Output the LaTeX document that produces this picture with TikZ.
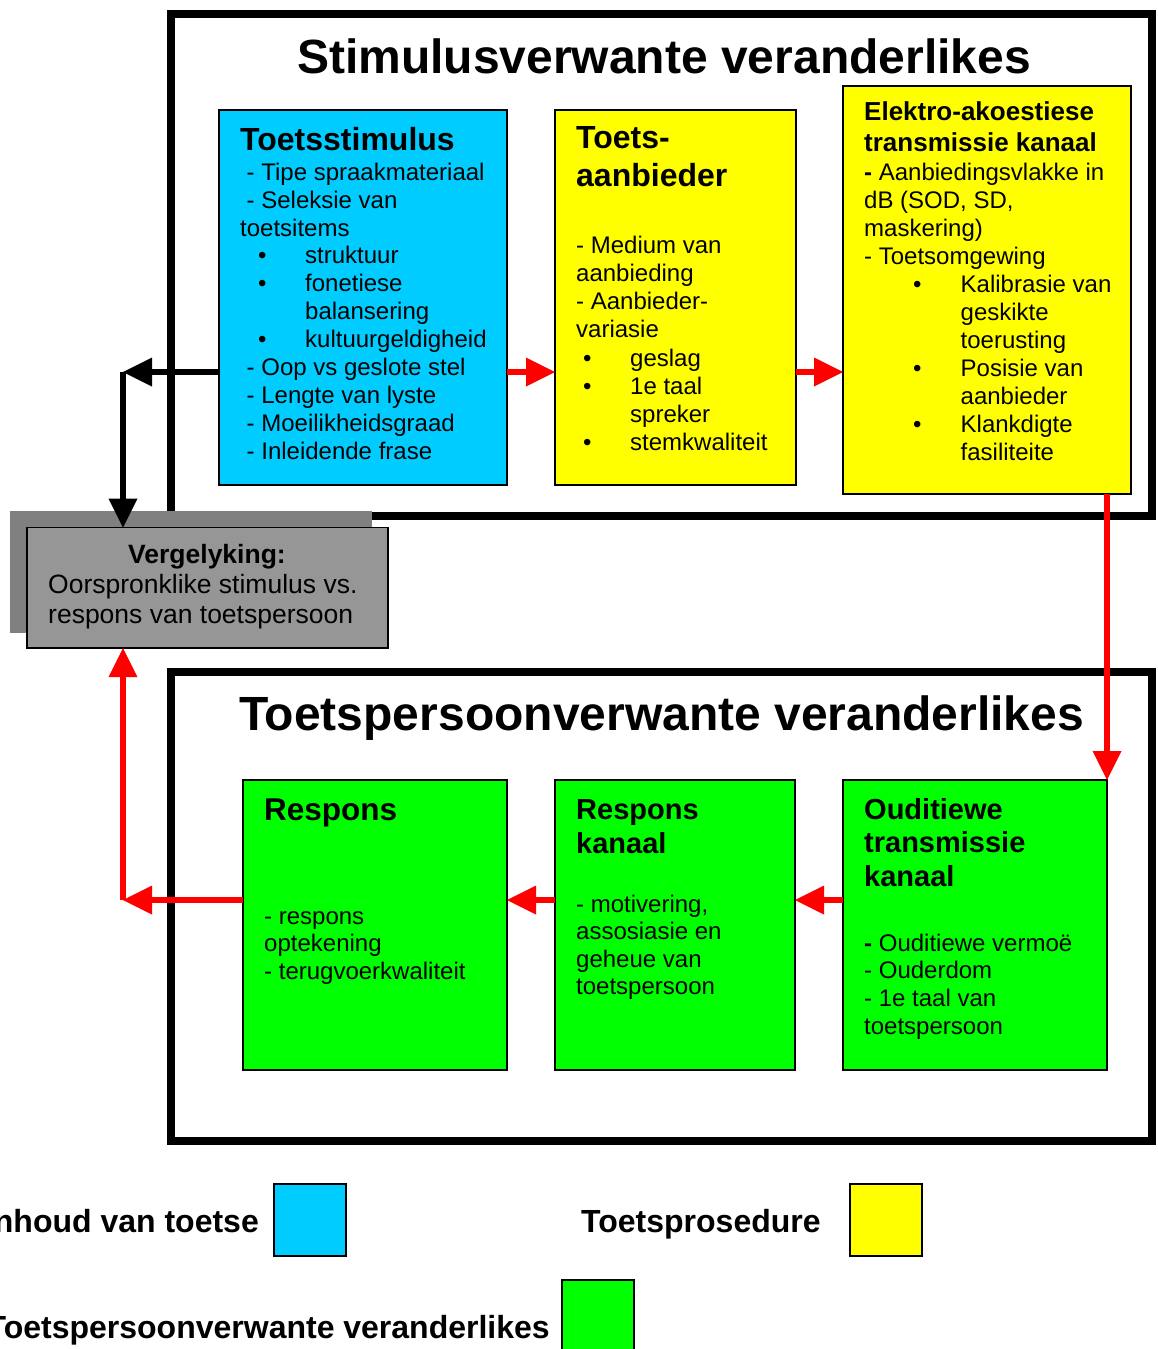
\documentclass[tikz,border=0pt]{standalone}
\usepackage{fontspec}
\setmainfont{Liberation Sans}
\usetikzlibrary{arrows.meta}
\definecolor{cblue}{HTML}{00CCFF}
\definecolor{cyel}{HTML}{FFFF00}
\definecolor{cgreen}{HTML}{00FF00}
\definecolor{cgray}{HTML}{969696}
\definecolor{cshadow}{HTML}{808080}
\newcommand\bitem[3]{\hspace*{#1pt}\makebox[0pt]{\textbullet}\hspace*{#2pt}#3}
\newcommand\fsz[2]{\fontsize{#1pt}{#2pt}\selectfont}
\newcommand\fst[1]{\rule{0pt}{#1pt}}
\begin{document}
\begin{tikzpicture}[x=1pt,y=-1pt,
  frm/.style={draw=black, line width=8pt, inner sep=0pt, outer sep=0pt, anchor=north west},
  bx/.style={draw=black, line width=2pt, inner sep=0pt, outer sep=0pt, anchor=north west},
  txt/.style={inner sep=0pt, anchor=north west, align=left},
  lbl/.style={inner sep=0pt},
  tipA/.tip={Triangle[length=29pt,width=29pt,line width=0pt]},
  redarr/.style={draw=red, fill=red, line width=6pt, -tipA},
  blkarr/.style={draw=black, fill=black, line width=6pt, -tipA}]
\useasboundingbox (0,0) rectangle (1157,1349);

% frames
\node[frm, minimum width=981pt, minimum height=502pt] (fr1) at (171,14) {};
\node[frm, minimum width=981pt, minimum height=469pt] (fr2) at (171,672) {};

% titles
\node[lbl, anchor=base west, font=\bfseries\fsz{48}{55}] (ti1) at (297,73) {Stimulusverwante veranderlikes};
\node[lbl, anchor=base west, font=\bfseries\fsz{48}{55}] (ti2) at (239,730) {Toetspersoonverwante veranderlikes};

% top boxes
\node[bx, fill=cblue, minimum width=288pt, minimum height=375pt] (ts) at (219,110) {};
\node[bx, fill=cyel, minimum width=241pt, minimum height=375pt] (ta) at (555,110) {};
\node[bx, fill=cyel, minimum width=288pt, minimum height=408pt] (ek) at (843,86) {};

% Toetsstimulus text
\node[lbl, anchor=base west, font=\bfseries\fsz{32}{37}] (tsh) at (240,150) {Toetsstimulus};
\node[txt, font=\fsz{24}{27.9}] (tsb) at (240,156) {\fst{24}\hspace*{6.5pt}- Tipe spraakmateriaal\\
\hspace*{6.5pt}- Seleksie van\\
toetsitems\\
\bitem{22}{43}{struktuur}\\
\bitem{22}{43}{fonetiese}\\
\hspace*{65pt}balansering\\
\bitem{22}{43}{kultuurgeldigheid}\\
\hspace*{6.5pt}- Oop vs geslote stel\\
\hspace*{6.5pt}- Lengte van lyste\\
\hspace*{6.5pt}- Moeilikheidsgraad\\
\hspace*{6.5pt}- Inleidende frase};

% Toets-aanbieder text
\node[txt, font=\bfseries\fsz{32}{37.8}] (tah) at (576,116) {\fst{32}Toets-\\aanbieder};
\node[txt, font=\fsz{24}{28.2}] (tab) at (576,229) {\fst{24}- Medium van\\
aanbieding\\
- Aanbieder-\\
variasie\\
\bitem{11}{43}{geslag}\\
\bitem{11}{43}{1e taal}\\
\hspace*{54pt}spreker\\
\bitem{11}{43}{stemkwaliteit}};

% Elektro text
\node[txt, font=\bfseries\fsz{26}{31}] (ekh) at (864,94) {\fst{26}Elektro-akoestiese\\transmissie kanaal};
\node[txt, font=\fsz{24}{28.07}] (ekb) at (864,156) {\fst{24}\textbf{-} Aanbiedingsvlakke in\\
dB (SOD, SD,\\
maskering)\\
- Toetsomgewing\\
\bitem{53}{43.5}{Kalibrasie van}\\
\hspace*{96.5pt}geskikte\\
\hspace*{96.5pt}toerusting\\
\bitem{53}{43.5}{Posisie van}\\
\hspace*{96.5pt}aanbieder\\
\bitem{53}{43.5}{Klankdigte}\\
\hspace*{96.5pt}fasiliteite};

% bottom boxes
\node[bx, fill=cgreen, minimum width=264pt, minimum height=290pt] (rs) at (243,780) {};
\node[bx, fill=cgreen, minimum width=240pt, minimum height=290pt] (rk) at (555,780) {};
\node[bx, fill=cgreen, minimum width=264pt, minimum height=290pt] (ou) at (843,780) {};

\node[lbl, anchor=base west, font=\bfseries\fsz{31.5}{37}] (rsh) at (264,820) {Respons};
\node[txt, font=\fsz{24}{27.5}] (rsb) at (264,900) {\fst{24}- respons\\optekening\\- terugvoerkwaliteit};

\node[txt, font=\bfseries\fsz{29}{34}] (rkh) at (576,790) {\fst{29}Respons\\kanaal};
\node[txt, font=\fsz{24}{27.4}] (rkb) at (576,888) {\fst{24}- motivering,\\assosiasie en\\geheue van\\toetspersoon};

\node[txt, font=\bfseries\fsz{29}{33.5}] (ouh) at (864,790) {\fst{29}Ouditiewe\\transmissie\\kanaal};
\node[txt, font=\fsz{24}{27.7}] (oub) at (864,927) {\fst{24}\textbf{-} Ouditiewe vermo\"e\\- Ouderdom\\- 1e taal van\\toetspersoon};

% comparison box with shadow
\fill[cshadow] (10,511) rectangle (372,633);
\node[draw=black, line width=1.5pt, fill=cgray, inner sep=0pt, outer sep=0pt, anchor=north west, minimum width=361pt, minimum height=120.5pt] (gr) at (27,527.5) {};
\node[lbl, anchor=base, font=\bfseries\fsz{26.5}{30}] (grh) at (207,563) {Vergelyking:};
\node[txt, font=\fsz{26.5}{30}] (grb) at (48,567) {\fst{26.5}Oorspronklike stimulus vs.\\respons van toetspersoon};

% connectors
\coordinate (c1) at (123,372);
\coordinate (c2) at (123,900);
\draw[blkarr] (ts.west |- c1) -- (c1);
\draw[blkarr] (c1) -- (c1 |- gr.north);
\draw[redarr] (ts.east |- c1) -- (ta.west |- c1);
\draw[redarr] (ta.east |- c1) -- (ek.west |- c1);
\draw[redarr] (ek.south -| ou.east) -- (ou.north east);
\draw[redarr] (ou.west |- c2) -- (rk.east |- c2);
\draw[redarr] (rk.west |- c2) -- (rs.east |- c2);
\draw[redarr] (rs.west |- c2) -- (c2);
\draw[redarr] (c2) -- (c2 |- gr.south);

% legend
\node[bx, fill=cblue, minimum width=72pt, minimum height=72pt] (lb) at (274,1184) {};
\node[bx, fill=cyel, minimum width=72pt, minimum height=72pt] (ly) at (850,1184) {};
\node[bx, fill=cgreen, minimum width=72pt, minimum height=72pt] (lg) at (562,1280) {};
\node[lbl, anchor=base east, font=\bfseries\fsz{32}{37}] (lbt) at (259,1232) {Inhoud van toetse};
\node[lbl, anchor=base west, font=\bfseries\fsz{32}{37}] (lyt) at (581,1232) {Toetsprosedure};
\node[lbl, anchor=base east, font=\bfseries\fsz{32}{37}] (lgt) at (550,1338) {Toetspersoonverwante veranderlikes};
\end{tikzpicture}
\end{document}
